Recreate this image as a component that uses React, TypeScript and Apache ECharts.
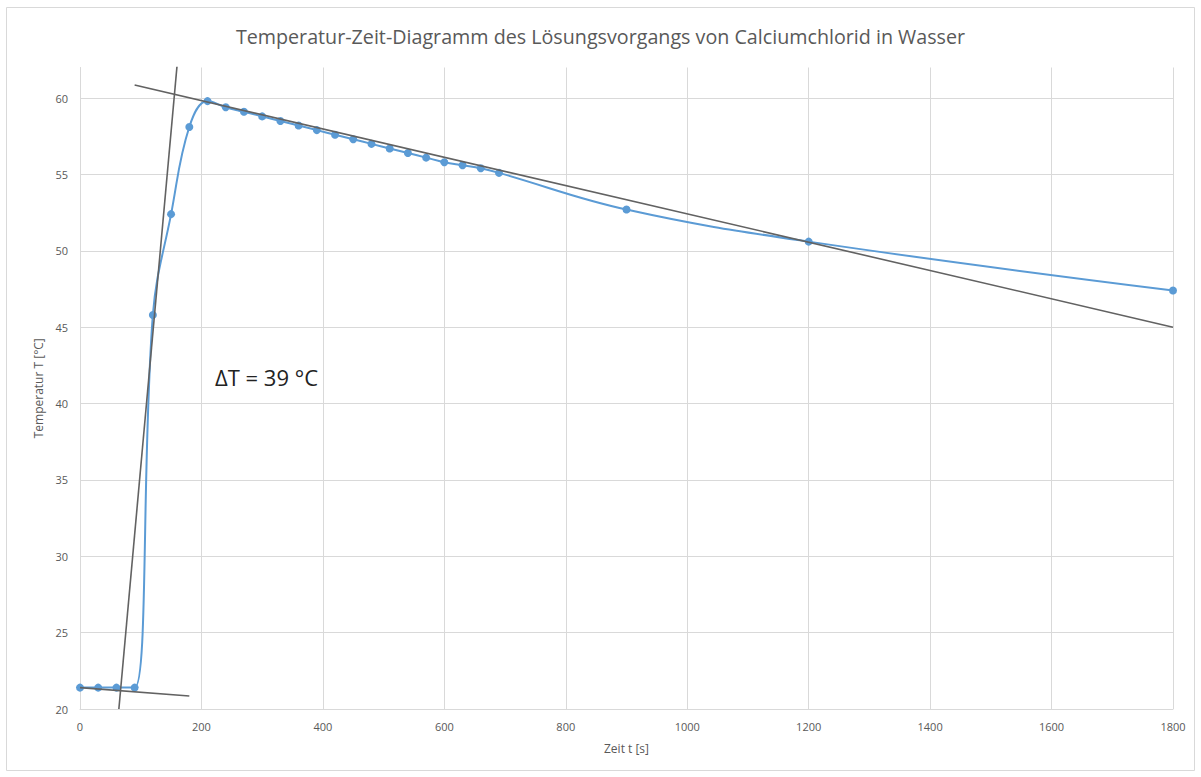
import React, { useEffect, useRef } from "react";
import * as echarts from "echarts";

const timeSeconds = [0, 30, 60, 90, 120, 150, 180, 210, 240, 270, 300, 330, 360, 390, 420, 450, 480, 510, 540, 570, 600, 630, 660, 690, 900, 1200, 1800];
const temperatures = [21.4, 21.4, 21.4, 21.4, 45.8, 52.4, 58.1, 59.8, 59.4, 59.1, 58.8, 58.5, 58.2, 57.9, 57.6, 57.3, 57.0, 56.7, 56.4, 56.1, 55.8, 55.6, 55.4, 55.1, 52.7, 50.6, 47.4];

// tangent / construction lines: [t, T] endpoints
const tangentBefore = [[0, 21.4], [180, 20.85]];
const tangentSteep = [[64, 20], [160, 62.2]];
const tangentAfter = [[90, 60.85], [1800, 45.0]];

const xTicks = { min: 0, max: 1800, interval: 200 };
const yTicks = { min: 20, max: 62, interval: 5 };

const titleText = "Temperatur-Zeit-Diagramm des Lösungsvorgangs von Calciumchlorid in Wasser";
const xName = "Zeit t [s]";
const yName = "Temperatur T [°C]";
const annotation = "ΔT = 39 °C";

export default function App() {
  const ref = useRef<HTMLDivElement>(null);
  useEffect(() => {
    if (!ref.current) return;
    const chart = echarts.init(ref.current, undefined, { renderer: "svg" });
    const font = "'Open Sans', 'Liberation Sans', sans-serif";
    const gray = "#595959";
    const lineGray = "#d9d9d9";
    const tangentStyle = { color: "#626262", width: 1.6 };
    chart.setOption({
      animation: false,
      backgroundColor: "#ffffff",
      title: {
        text: titleText,
        left: "center",
        top: 21,
        textStyle: { fontFamily: font, fontSize: 19.7, fontWeight: "normal", color: gray },
      },
      graphic: [
        {
          type: "rect",
          shape: { x: 6.5, y: 7.5, width: 1188, height: 763 },
          style: { fill: "none", stroke: "#d9d9d9", lineWidth: 1 },
          silent: true,
        },
        {
          type: "text",
          left: 215,
          top: 366,
          style: { text: annotation, fontFamily: font, fontSize: 22, fill: "#222222" },
        },
      ],
      grid: { left: 80, right: 28, top: 67.5, bottom: 68 },
      xAxis: {
        type: "value",
        min: xTicks.min,
        max: xTicks.max,
        interval: xTicks.interval,
        name: xName,
        nameLocation: "middle",
        nameGap: 33,
        nameTextStyle: { fontFamily: font, fontSize: 12, color: gray },
        axisLine: { show: true, lineStyle: { color: lineGray, width: 1 } },
        axisTick: { show: false },
        axisLabel: { fontFamily: font, fontSize: 11, color: gray, margin: 12, formatter: (v: number) => String(v) },
        splitLine: { show: true, lineStyle: { color: lineGray, width: 1 } },
      },
      yAxis: {
        type: "value",
        min: yTicks.min,
        max: yTicks.max,
        interval: yTicks.interval,
        name: yName,
        nameLocation: "middle",
        nameGap: 36,
        nameRotate: 90,
        nameTextStyle: { fontFamily: font, fontSize: 12, color: gray },
        axisLine: { show: true, lineStyle: { color: lineGray, width: 1 } },
        axisTick: { show: false },
        axisLabel: {
          fontFamily: font,
          fontSize: 11,
          color: gray,
          margin: 12,
          showMaxLabel: false,
        },
        splitLine: { show: true, showMaxLine: false, lineStyle: { color: lineGray, width: 1 } },
      },
      series: [
        {
          type: "line",
          data: tangentBefore,
          symbol: "none",
          lineStyle: tangentStyle,
          z: 3,
        },
        {
          type: "line",
          data: tangentSteep,
          symbol: "none",
          lineStyle: tangentStyle,
          z: 3,
        },
        {
          type: "line",
          data: tangentAfter,
          symbol: "none",
          lineStyle: tangentStyle,
          z: 3,
        },
        {
          type: "line",
          data: timeSeconds.map((t, i) => [t, temperatures[i]]),
          smooth: 0.4,
          symbol: "circle",
          symbolSize: 8,
          itemStyle: { color: "#5b9bd5" },
          lineStyle: { color: "#5b9bd5", width: 2 },
          z: 2,
        },
      ],
    });
    return () => chart.dispose();
  }, []);
  return <div ref={ref} style={{ width: 1201, height: 777, position: "absolute", left: 0, top: 0 }} />;
}
